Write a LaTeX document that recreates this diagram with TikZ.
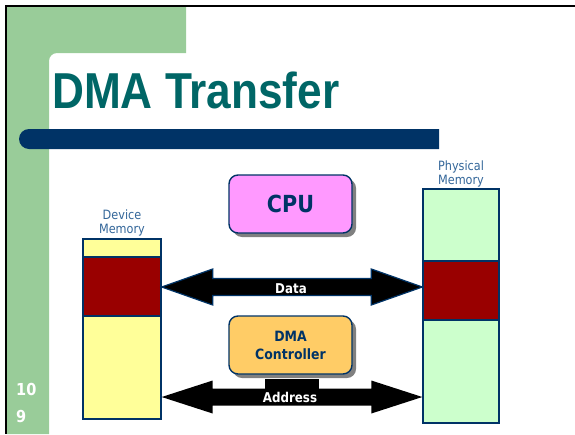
\documentclass[tikz,border=0pt]{standalone}
\usepackage{fontspec}
\usetikzlibrary{calc,shadows}
\newfontfamily\titlefont{Liberation Sans}[FakeStretch=0.875]
\newfontfamily\labelfont{DejaVu Sans}[FakeStretch=0.88]

\definecolor{slidegreen}{HTML}{99CC99}
\definecolor{titleteal}{HTML}{006666}
\definecolor{barnavy}{HTML}{003366}
\definecolor{capblue}{HTML}{336699}
\definecolor{devyellow}{HTML}{FFFF99}
\definecolor{physgreen}{HTML}{CCFFCC}
\definecolor{blockred}{HTML}{990000}
\definecolor{cpupink}{HTML}{FF99FF}
\definecolor{dmaorange}{HTML}{FFCC66}

% fat double-headed arrow: #1 style, #2/#3 tip coordinates,
% #4 head length, #5 head half-width, #6 shaft half-width
\newcommand\fatarrow[6]{%
  \path[#1] (#2) -- ($(#2)+(#4,-#5)$) -- ($(#2)+(#4,-#6)$)
    -- ($(#3)+(-#4,-#6)$) -- ($(#3)+(-#4,-#5)$) -- (#3)
    -- ($(#3)+(-#4,#5)$) -- ($(#3)+(-#4,#6)$)
    -- ($(#2)+(#4,#6)$) -- ($(#2)+(#4,#5)$) -- cycle;}

\tikzset{
  membox/.style={draw=barnavy, line width=1.4pt, inner sep=0pt, rectangle},
  memcap/.style={text=capblue, align=center, inner sep=0pt,
    font=\labelfont\fontsize{12.8}{14}\selectfont},
  unitbox/.style={draw=barnavy, line width=1.4pt, rounded corners=9pt,
    minimum width=123pt, minimum height=58pt, inner sep=0pt,
    text=barnavy, align=center,
    drop shadow={shadow xshift=4pt, shadow yshift=-4pt, fill=gray, opacity=1}},
  buslabel/.style={text=white, inner sep=0pt,
    font=\labelfont\bfseries\fontsize{13.5}{16}\selectfont},
}

\begin{document}
\begin{tikzpicture}[x=1pt, y=-1pt]
\useasboundingbox (0,0) rectangle (575,434);

% slide background: green corner band with rounded inner corner
\fill[slidegreen] (7,7) -- (186,7) -- (186,53) -- (57,53)
  arc[start angle=270, end angle=180, radius=8] -- (49,434) -- (7,434) -- cycle;
\draw[black, line width=2pt] (5,6) -- (575,6);
\draw[black, line width=2pt] (6,5) -- (6,434);

% title and rule bar
\node[anchor=base west, inner sep=0pt, text=titleteal,
  font=\titlefont\bfseries\fontsize{50.5}{50}\selectfont] (title) at (52,108) {DMA Transfer};
\fill[barnavy] (439,129) -- (29,129) arc[start angle=270, end angle=90, radius=10]
  -- (439,149) -- cycle;

% device memory column
\node[membox, fill=devyellow, minimum width=78pt, minimum height=18pt] (devtop) at (122,248) {};
\node[membox, fill=blockred, minimum width=78pt, minimum height=59pt] (devred) at (122,286.5) {};
\node[membox, fill=devyellow, minimum width=78pt, minimum height=103pt] (devlow) at (122,367.5) {};
\node[memcap, anchor=base] (devcap) at (122,233) {Device\\Memory};

% physical memory column
\node[membox, fill=physgreen, minimum width=76pt, minimum height=72pt] (phystop) at (461,225) {};
\node[membox, fill=blockred, minimum width=76pt, minimum height=59pt] (physred) at (461,290.5) {};
\node[membox, fill=physgreen, minimum width=76pt, minimum height=103pt] (physlow) at (461,371.5) {};
\node[memcap, anchor=base] (physcap) at (461,184) {Physical\\Memory};

% processing units
\node[unitbox, fill=cpupink, font=\labelfont\bfseries\fontsize{23.5}{26}\selectfont]
  (cpu) at (290.5,204) {CPU};
\node[unitbox, fill=dmaorange, font=\labelfont\bfseries\fontsize{14.2}{18}\selectfont]
  (dma) at (290.5,345) {DMA\\Controller};

% stub joining the controller to the address bus
\fill[black] ($(dma.south)+(-25.5,4.5)$) rectangle ($(dma.south)+(28.5,20)$);

% data bus
\coordinate (dataL) at ($(devred.east)+(0,0.5)$);
\coordinate (dataR) at (physred.west |- dataL);
\fatarrow{fill=black, draw=barnavy, line width=1.2pt, line join=miter}{dataL}{dataR}{51}{18}{8.5}
\node[buslabel] (datalbl) at (291,289) {Data};

% address bus
\coordinate (addrL) at ($(devlow.east)+(0,29.5)$);
\coordinate (addrR) at (physlow.west |- addrL);
\fatarrow{fill=black}{addrL}{addrR}{51}{16.5}{8.5}
\node[buslabel] (addrlbl) at (290,397) {Address};

% slide number
\node[anchor=base west, inner sep=0pt, text=white,
  font=\labelfont\bfseries\fontsize{16.5}{18}\selectfont] (pgA) at (16,395) {10};
\node[anchor=base west, inner sep=0pt, text=white,
  font=\labelfont\bfseries\fontsize{16.5}{18}\selectfont] (pgB) at (16,422) {9};
\end{tikzpicture}
\end{document}
